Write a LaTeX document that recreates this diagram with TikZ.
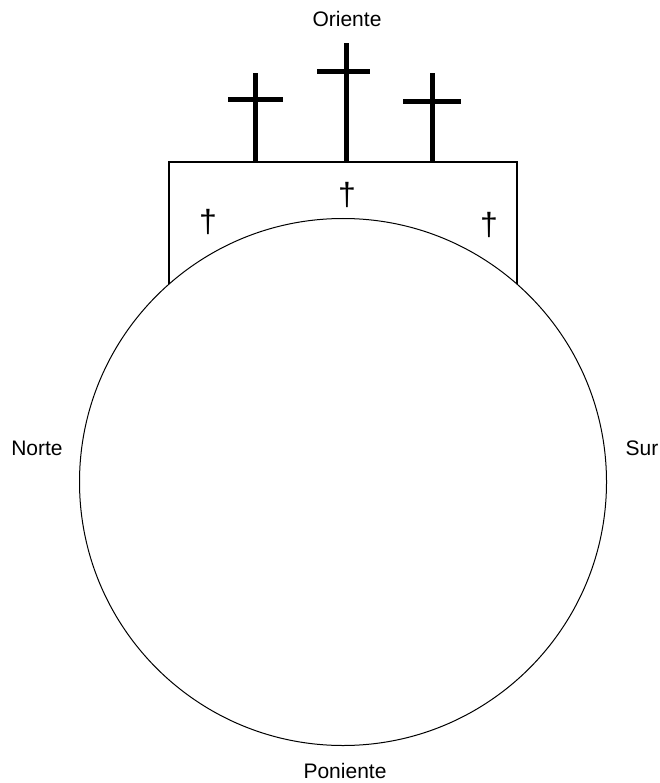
\documentclass[tikz,border=0pt]{standalone}
\usepackage{fontspec}
\setmainfont{Liberation Sans}
\begin{document}
\begin{tikzpicture}[x=1pt,y=-1pt,
  lbl/.style={inner sep=0pt,font=\fontsize{21}{24}\selectfont},
  dag/.style={inner sep=0pt,font=\fontsize{32}{36}\selectfont},
  crossline/.style={line width=5pt},
  wall/.style={line width=2pt}]
\useasboundingbox (0,0) rectangle (660,783);
\node[circle,draw,line width=1pt,minimum size=527pt,inner sep=0pt] (c) at (343,482) {};
% enclosure
\coordinate (wl) at (169,284);
\coordinate (tl) at (169,162);
\coordinate (tr) at (517,162);
\coordinate (wr) at (517,284);
\draw[wall] (wl) -- (tl) -- (tr) -- (wr);
% crosses
\draw[crossline] (255,162) -- (255,73);
\draw[crossline] (228,100) -- (283,100);
\draw[crossline] (346,162) -- (346,43);
\draw[crossline] (317,72) -- (370,72);
\draw[crossline] (432,162) -- (432,73);
\draw[crossline] (403,102) -- (461,102);
% daggers
\node[dag] (d1) at (208,222) {†};
\node[dag] (d2) at (347,195) {†};
\node[dag] (d3) at (489,225) {†};
% labels
\node[lbl] (o) at (347,19) {Oriente};
\node[lbl] (n) at (37,448) {Norte};
\node[lbl] (s) at (642,448) {Sur};
\node[lbl] (p) at (345,771) {Poniente};
\end{tikzpicture}
\end{document}
